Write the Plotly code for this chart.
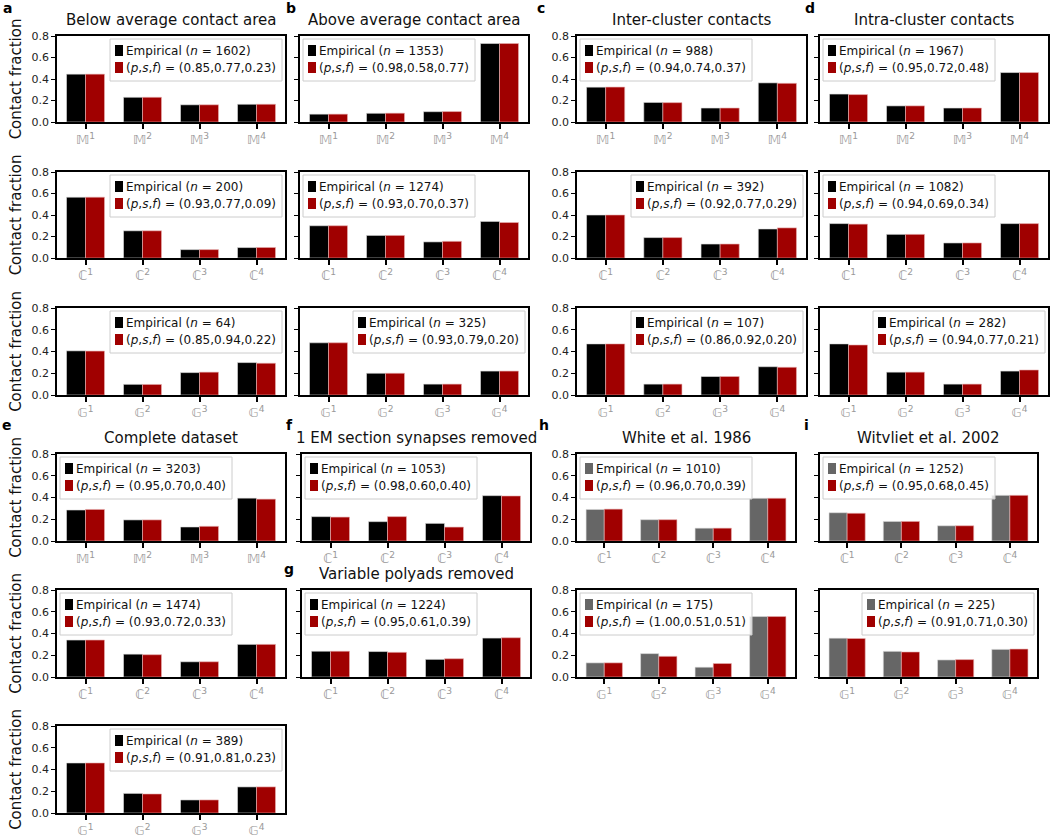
import plotly.graph_objects as go

# ---------------- data ----------------
M_ticks = ["𝕄<sup>1</sup>", "𝕄<sup>2</sup>", "𝕄<sup>3</sup>", "𝕄<sup>4</sup>"]
C_ticks = ["ℂ<sup>1</sup>", "ℂ<sup>2</sup>", "ℂ<sup>3</sup>", "ℂ<sup>4</sup>"]
G_ticks = ["𝔾<sup>1</sup>", "𝔾<sup>2</sup>", "𝔾<sup>3</sup>", "𝔾<sup>4</sup>"]

# a: Below average contact area
a_M_emp = [0.445, 0.23, 0.16, 0.165]
a_M_fit = [0.445, 0.23, 0.16, 0.165]
a_C_emp = [0.566, 0.253, 0.078, 0.097]
a_C_fit = [0.566, 0.253, 0.078, 0.098]
a_G_emp = [0.406, 0.098, 0.206, 0.298]
a_G_fit = [0.404, 0.097, 0.21, 0.292]
# b: Above average contact area
b_M_emp = [0.073, 0.081, 0.096, 0.73]
b_M_fit = [0.073, 0.082, 0.097, 0.73]
b_C_emp = [0.30, 0.21, 0.15, 0.34]
b_C_fit = [0.30, 0.21, 0.155, 0.33]
b_G_emp = [0.48, 0.20, 0.10, 0.22]
b_G_fit = [0.48, 0.20, 0.10, 0.22]
# c: Inter-cluster contacts
c_M_emp = [0.324, 0.182, 0.13, 0.364]
c_M_fit = [0.325, 0.18, 0.13, 0.36]
c_C_emp = [0.40, 0.19, 0.13, 0.27]
c_C_fit = [0.40, 0.19, 0.13, 0.28]
c_G_emp = [0.47, 0.10, 0.17, 0.26]
c_G_fit = [0.47, 0.10, 0.17, 0.255]
# d: Intra-cluster contacts
d_M_emp = [0.26, 0.15, 0.13, 0.46]
d_M_fit = [0.255, 0.15, 0.13, 0.46]
d_C_emp = [0.32, 0.22, 0.14, 0.32]
d_C_fit = [0.315, 0.22, 0.14, 0.32]
d_G_emp = [0.47, 0.21, 0.10, 0.22]
d_G_fit = [0.46, 0.21, 0.10, 0.23]
# e: Complete dataset
e_M_emp = [0.285, 0.194, 0.129, 0.394]
e_M_fit = [0.29, 0.194, 0.135, 0.385]
e_C_emp = [0.34, 0.21, 0.14, 0.30]
e_C_fit = [0.34, 0.205, 0.14, 0.30]
e_G_emp = [0.46, 0.18, 0.12, 0.24]
e_G_fit = [0.46, 0.175, 0.12, 0.24]
# f: 1 EM section synapses removed
f_C_emp = [0.224, 0.178, 0.162, 0.417]
f_C_fit = [0.22, 0.224, 0.128, 0.414]
# g: Variable polyads removed
g_C_emp = [0.237, 0.234, 0.162, 0.358]
g_C_fit = [0.237, 0.227, 0.168, 0.361]
# h: White et al. 1986
h_C_emp = [0.29, 0.196, 0.118, 0.393]
h_C_fit = [0.293, 0.196, 0.118, 0.393]
h_G_emp = [0.13, 0.215, 0.09, 0.556]
h_G_fit = [0.13, 0.19, 0.124, 0.556]
# i: Witvliet et al. 2002
i_C_emp = [0.26, 0.18, 0.14, 0.42]
i_C_fit = [0.255, 0.18, 0.14, 0.42]
i_G_emp = [0.357, 0.236, 0.157, 0.254]
i_G_fit = [0.354, 0.23, 0.16, 0.257]

n_vals = {"a1": 1602, "a2": 200, "a3": 64, "b1": 1353, "b2": 1274, "b3": 325,
          "c1": 988, "c2": 392, "c3": 107, "d1": 1967, "d2": 1082, "d3": 282,
          "e1": 3203, "e2": 1474, "e3": 389, "f1": 1053, "g1": 1224,
          "h1": 1010, "h2": 175, "i1": 1252, "i2": 225}
psf_vals = {"a1": "0.85,0.77,0.23", "a2": "0.93,0.77,0.09", "a3": "0.85,0.94,0.22",
            "b1": "0.98,0.58,0.77", "b2": "0.93,0.70,0.37", "b3": "0.93,0.79,0.20",
            "c1": "0.94,0.74,0.37", "c2": "0.92,0.77,0.29", "c3": "0.86,0.92,0.20",
            "d1": "0.95,0.72,0.48", "d2": "0.94,0.69,0.34", "d3": "0.94,0.77,0.21",
            "e1": "0.95,0.70,0.40", "e2": "0.93,0.72,0.33", "e3": "0.91,0.81,0.23",
            "f1": "0.98,0.60,0.40", "g1": "0.95,0.61,0.39",
            "h1": "0.96,0.70,0.39", "h2": "1.00,0.51,0.51",
            "i1": "0.95,0.68,0.45", "i2": "0.91,0.71,0.30"}

titles = {"a1": "Below average contact area", "b1": "Above average contact area",
          "c1": "Inter-cluster contacts", "d1": "Intra-cluster contacts",
          "e1": "Complete dataset", "f1": "1 EM section synapses removed",
          "g1": "Variable polyads removed", "h1": "White et al. 1986",
          "i1": "Witvliet et al. 2002"}

# ---------------- layout geometry (pixels in the page) ----------------
W, H = 1050, 840
colA = (57, 285); colB = (300, 528); colC = (577, 806); colD = (820, 1048)
colF = (302, 530); colH = (577, 795); colI = (820, 1037)
rT = [(36, 122), (172, 258), (308, 395)]
rB = [(454, 541), (590, 677), (726, 813)]

BLACK = "#000000"; RED = "#a00000"; GRAY = "#666666"

panels = [
    ("a1", a_M_emp, a_M_fit, M_ticks, colA, rT[0], "right", True, BLACK),
    ("a2", a_C_emp, a_C_fit, C_ticks, colA, rT[1], "right", True, BLACK),
    ("a3", a_G_emp, a_G_fit, G_ticks, colA, rT[2], "right", True, BLACK),
    ("b1", b_M_emp, b_M_fit, M_ticks, colB, rT[0], "left", False, BLACK),
    ("b2", b_C_emp, b_C_fit, C_ticks, colB, rT[1], "left", False, BLACK),
    ("b3", b_G_emp, b_G_fit, G_ticks, colB, rT[2], "right", False, BLACK),
    ("c1", c_M_emp, c_M_fit, M_ticks, colC, rT[0], "left", True, BLACK),
    ("c2", c_C_emp, c_C_fit, C_ticks, colC, rT[1], "right", True, BLACK),
    ("c3", c_G_emp, c_G_fit, G_ticks, colC, rT[2], "right", True, BLACK),
    ("d1", d_M_emp, d_M_fit, M_ticks, colD, rT[0], "left", False, BLACK),
    ("d2", d_C_emp, d_C_fit, C_ticks, colD, rT[1], "left", False, BLACK),
    ("d3", d_G_emp, d_G_fit, G_ticks, colD, rT[2], "right", False, BLACK),
    ("e1", e_M_emp, e_M_fit, M_ticks, colA, rB[0], "left", True, BLACK),
    ("e2", e_C_emp, e_C_fit, C_ticks, colA, rB[1], "left", True, BLACK),
    ("e3", e_G_emp, e_G_fit, G_ticks, colA, rB[2], "right", True, BLACK),
    ("f1", f_C_emp, f_C_fit, C_ticks, colF, rB[0], "left", False, BLACK),
    ("g1", g_C_emp, g_C_fit, C_ticks, colF, rB[1], "left", False, BLACK),
    ("h1", h_C_emp, h_C_fit, C_ticks, colH, rB[0], "left", True, GRAY),
    ("h2", h_G_emp, h_G_fit, G_ticks, colH, rB[1], "left", True, GRAY),
    ("i1", i_C_emp, i_C_fit, C_ticks, colI, rB[0], "left", False, GRAY),
    ("i2", i_G_emp, i_G_fit, G_ticks, colI, rB[1], "right", False, GRAY),
]

FONT = "DejaVu Sans"
LEG_W, LEG_H = 172, 42


def px(x):
    return x / W


def py(y):
    return 1 - y / H


fig = go.Figure()
layout = {}
annotations = []
shapes = []

for k, (key, emp, fit, ticks, (x0, x1), (y0, y1), legpos, ylabels, empcol) in enumerate(panels):
    idx = k + 1
    sfx = "" if idx == 1 else str(idx)
    xa, ya = "x" + sfx, "y" + sfx
    xs = list(range(len(ticks)))
    name_emp = "Empirical (<i>n</i> = %d)" % n_vals[key]
    name_fit = "(<i>p</i>,<i>s</i>,<i>f</i>) = (%s)" % psf_vals[key]
    fig.add_trace(go.Bar(x=xs, y=emp, xaxis=xa, yaxis=ya, name=name_emp,
                         showlegend=False,
                         marker=dict(color=empcol, line=dict(color="#dddddd", width=0.6))))
    fig.add_trace(go.Bar(x=xs, y=fit, xaxis=xa, yaxis=ya, name=name_fit,
                         showlegend=False,
                         marker=dict(color=RED, line=dict(color="#e8b0b0", width=0.6))))
    layout["xaxis" + sfx] = dict(
        domain=[px(x0), px(x1)], anchor=ya, range=[-0.5, len(ticks) - 0.5],
        tickvals=xs, ticktext=ticks, ticks="outside", ticklen=5, tickwidth=1.5,
        tickcolor="black", showline=True, linecolor="black", linewidth=1.5,
        mirror=True, showgrid=False, zeroline=False, automargin=False,
        tickfont=dict(family=FONT, size=13, color="#999999"))
    yax = dict(
        domain=[py(y1), py(y0)], anchor=xa, range=[0, 0.8],
        tickvals=[0, 0.2, 0.4, 0.6, 0.8], tickformat=".1f", ticks="outside",
        ticklen=4, tickwidth=1.2, tickcolor="black", showline=True,
        linecolor="black", linewidth=1.5, mirror=True, showgrid=False,
        zeroline=False, showticklabels=ylabels, automargin=False,
        tickfont=dict(family=FONT, size=11, color="#222222"))
    if key[0] in ("a", "e"):
        yax["title"] = dict(text="Contact fraction", standoff=6,
                            font=dict(family=FONT, size=15, color="#111111"))
    layout["yaxis" + sfx] = yax

    # legend box (drawn as shapes + text)
    if legpos == "left":
        lx0 = x0 + 3
    else:
        lx0 = x1 - 3 - LEG_W
    ly0 = y0 + 3
    shapes.append(dict(type="rect", xref="paper", yref="paper", layer="above",
                       x0=px(lx0), x1=px(lx0 + LEG_W), y0=py(ly0 + LEG_H), y1=py(ly0),
                       fillcolor="rgba(255,255,255,0.8)",
                       line=dict(color="#cccccc", width=1)))
    for row, (col, txt) in enumerate([(empcol, name_emp), (RED, name_fit)]):
        cy = ly0 + 12 + row * 17
        shapes.append(dict(type="rect", xref="paper", yref="paper", layer="above",
                           x0=px(lx0 + 5), x1=px(lx0 + 13), y0=py(cy + 5), y1=py(cy - 6),
                           fillcolor=col, line=dict(width=0)))
        annotations.append(dict(text=txt, x=px(lx0 + 14), y=py(cy), xref="paper",
                                yref="paper", xanchor="left", yanchor="middle",
                                showarrow=False,
                                font=dict(family=FONT, size=12, color="#111111")))

    if key in titles:
        annotations.append(dict(text=titles[key], x=px((x0 + x1) / 2),
                                y=py(y0 - 16), xref="paper", yref="paper",
                                xanchor="center", yanchor="middle", showarrow=False,
                                font=dict(family=FONT, size=15, color="#111111")))

letters = [("a", 7, 8), ("b", 291, 8), ("c", 541, 8), ("d", 810, 8),
           ("e", 7, 425), ("f", 289, 425), ("g", 289, 569), ("h", 544, 425),
           ("i", 806, 425)]
for t, lx, ly in letters:
    annotations.append(dict(text="<b>%s</b>" % t, x=px(lx), y=py(ly),
                            xref="paper", yref="paper", xanchor="center",
                            yanchor="middle", showarrow=False,
                            font=dict(family=FONT, size=14, color="black")))

fig.update_layout(**layout)
fig.update_layout(width=W, height=H, margin=dict(l=0, r=0, t=0, b=0),
                  paper_bgcolor="white", plot_bgcolor="white",
                  barmode="group", bargap=1 / 3, bargroupgap=0,
                  showlegend=False, annotations=annotations, shapes=shapes,
                  font=dict(family=FONT))
fig.write_html("out.html", config={"displayModeBar": False},
               post_script="document.body.style.margin='0';document.body.style.overflow='hidden';")
